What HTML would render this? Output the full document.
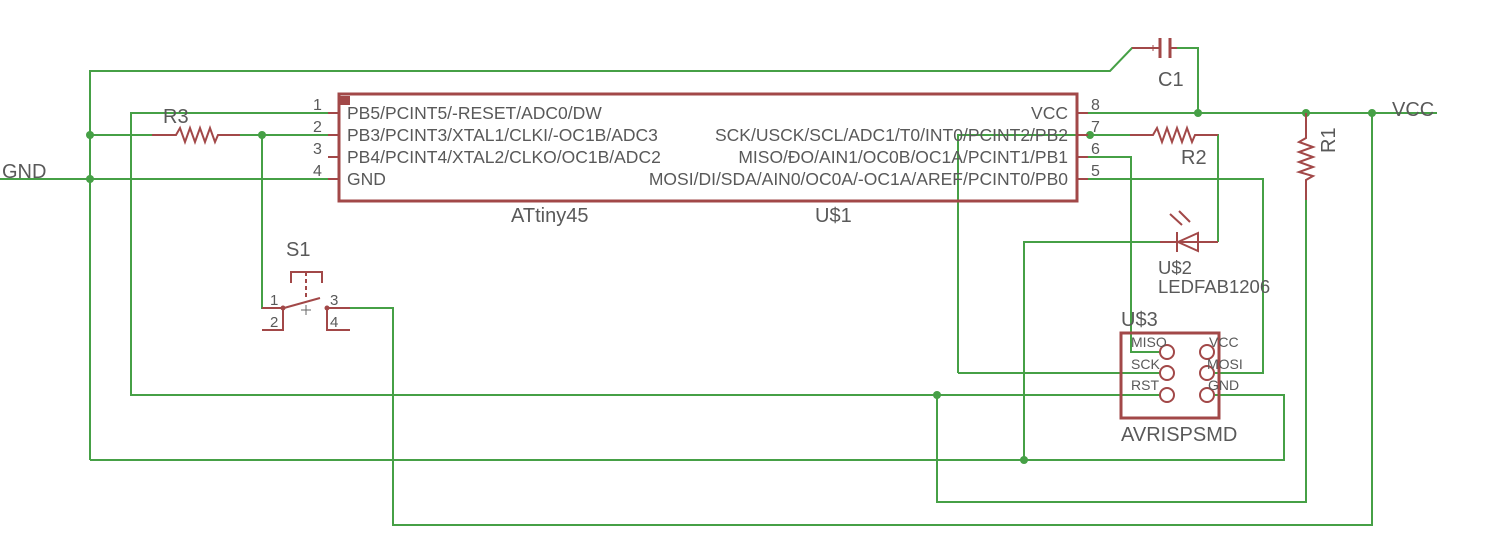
<!DOCTYPE html>
<html><head><meta charset="utf-8"><style>
html,body{margin:0;padding:0;background:#fff;}
svg{display:block;}
text{font-family:"Liberation Sans",sans-serif;fill:#595959;}
</style></head><body>
<svg width="1486" height="551" viewBox="0 0 1486 551" xmlns="http://www.w3.org/2000/svg">
<g fill="none" stroke="#46a046" stroke-width="2">
<polyline points="90,460 90,71 1110,71 1132,48 1150,48"/>
<polyline points="1177,48 1198,48 1198,113"/>
<line x1="1088" y1="113" x2="1437" y2="113"/>
<line x1="0" y1="179" x2="330" y2="179"/>
<line x1="90" y1="135" x2="152" y2="135"/>
<line x1="240" y1="135" x2="330" y2="135"/>
<polyline points="262,135 262,308 270,308"/>
<polyline points="330,113 131,113 131,395 1160,395"/>
<polyline points="350,308 393,308 393,525 1372,525 1372,113"/>
<polyline points="937,395 937,502 1306,502 1306,200"/>
<polyline points="90,460 1284,460 1284,395 1215,395"/>
<polyline points="1024,460 1024,242 1160,242"/>
<polyline points="1218,242 1218,135 1210,135"/>
<polyline points="958,373 958,135 1130,135"/>
<polyline points="1088,157 1131,157 1131,352 1160,352"/>
<polyline points="1088,179 1263,179 1263,373 1215,373"/>
<line x1="958" y1="373" x2="1160" y2="373"/>
</g>
<g fill="#46a046">
<circle cx="90" cy="135" r="4"/><circle cx="90" cy="179" r="4"/><circle cx="262" cy="135" r="4"/>
<circle cx="1090" cy="135" r="4"/><circle cx="1198" cy="113" r="4"/><circle cx="1306" cy="113" r="4"/>
<circle cx="1372" cy="113" r="4"/><circle cx="937" cy="395" r="4"/><circle cx="1024" cy="460" r="4"/>
</g>
<g fill="none" stroke="#a24848" stroke-width="2">
<rect x="339" y="94" width="738" height="107" stroke-width="3"/>
<line x1="328" y1="113" x2="339" y2="113"/><line x1="328" y1="135" x2="339" y2="135"/>
<line x1="328" y1="157" x2="339" y2="157"/><line x1="328" y1="179" x2="339" y2="179"/>
<line x1="1077" y1="113" x2="1088" y2="113"/><line x1="1077" y1="135" x2="1088" y2="135"/>
<line x1="1077" y1="157" x2="1088" y2="157"/><line x1="1077" y1="179" x2="1088" y2="179"/>
<polyline points="152,135 176,135 180,128 185,142 190,128 195,142 200,128 205,142 210,128 215,142 218,135 240,135"/>
<polyline points="1130,135 1153,135 1157,128 1162,142 1167,128 1172,142 1177,128 1182,142 1187,128 1192,142 1195,135 1218,135"/>
<polyline points="1306,113 1306,138 1299,142 1313,147 1299,152 1313,157 1299,162 1313,167 1299,172 1313,176 1306,180 1306,200"/>
<polyline points="1132,48 1160,48"/><line x1="1160" y1="38" x2="1160" y2="58" stroke-width="3"/>
<line x1="1170" y1="38" x2="1170" y2="58" stroke-width="3"/><line x1="1170" y1="48" x2="1177" y2="48"/>
<line x1="1153" y1="45" x2="1153" y2="51" stroke-width="1"/>
<line x1="1160" y1="242" x2="1218" y2="242"/>
<polygon points="1178,242 1198,233 1198,251"/><line x1="1177" y1="232" x2="1177" y2="252"/>
<line x1="1182" y1="225" x2="1170" y2="214"/><line x1="1190" y1="222" x2="1179" y2="211"/>
<rect x="1121" y="333" width="98" height="85" stroke-width="3"/>
<circle cx="1167" cy="352" r="7"/><circle cx="1167" cy="373" r="7"/><circle cx="1167" cy="395" r="7"/>
<circle cx="1207" cy="352" r="7"/><circle cx="1207" cy="373" r="7"/><circle cx="1207" cy="395" r="7"/>
<polyline points="291,283 291,272 322,272 322,283"/>
<line x1="306" y1="272" x2="306" y2="300" stroke-dasharray="4,3"/>
<line x1="284" y1="308" x2="320" y2="298"/>
<polyline points="262,308 283,308 283,330 262,330"/>
<polyline points="350,308 327,308 327,330 350,330"/>
</g>
<g fill="#a24848"><rect x="340" y="96" width="10" height="9"/><circle cx="283" cy="308" r="2.5"/><circle cx="327" cy="308" r="2.5"/></g>
<g stroke="#666" stroke-width="1"><line x1="306" y1="305" x2="306" y2="315"/><line x1="301" y1="310" x2="311" y2="310"/></g>
<g font-size="17.5">
<text x="347" y="119">PB5/PCINT5/-RESET/ADC0/DW</text>
<text x="347" y="141">PB3/PCINT3/XTAL1/CLKI/-OC1B/ADC3</text>
<text x="347" y="163">PB4/PCINT4/XTAL2/CLKO/OC1B/ADC2</text>
<text x="347" y="185">GND</text>
<text x="1068" y="119" text-anchor="end">VCC</text>
<text x="1068" y="141" text-anchor="end">SCK/USCK/SCL/ADC1/T0/INT0/PCINT2/PB2</text>
<text x="1068" y="163" text-anchor="end">MISO/ĐO/AIN1/OC0B/OC1A/PCINT1/PB1</text>
<text x="1068" y="185" text-anchor="end">MOSI/DI/SDA/AIN0/OC0A/-OC1A/AREF/PCINT0/PB0</text>
</g>
<g font-size="16">
<text x="313" y="110">1</text><text x="313" y="132">2</text><text x="313" y="154">3</text><text x="313" y="176">4</text>
<text x="1091" y="110">8</text><text x="1091" y="132">7</text><text x="1091" y="154">6</text><text x="1091" y="176">5</text>
</g>
<g font-size="20">
<text x="511" y="222">ATtiny45</text><text x="815" y="222">U$1</text>
<text x="163" y="123">R3</text><text x="1181" y="164">R2</text>
<text x="1158" y="86">C1</text>
<text x="2" y="178">GND</text><text x="1392" y="116">VCC</text>
<text x="286" y="256">S1</text>
<text x="1121" y="326">U$3</text><text x="1121" y="441">AVRISPSMD</text>
<text transform="translate(1335,153) rotate(-90)">R1</text>
</g>
<g font-size="18.5">
<text x="1158" y="274">U$2</text><text x="1158" y="293">LEDFAB1206</text>
</g>
<g font-size="14">
<text x="1131" y="347">MISO</text><text x="1131" y="369">SCK</text><text x="1131" y="390">RST</text>
<text x="1209" y="347">VCC</text><text x="1207" y="369">MOSI</text><text x="1208" y="390">GND</text>
</g>
<g font-size="15">
<text x="270" y="305">1</text><text x="270" y="327">2</text><text x="330" y="305">3</text><text x="330" y="327">4</text>
</g>
</svg>
</body></html>
